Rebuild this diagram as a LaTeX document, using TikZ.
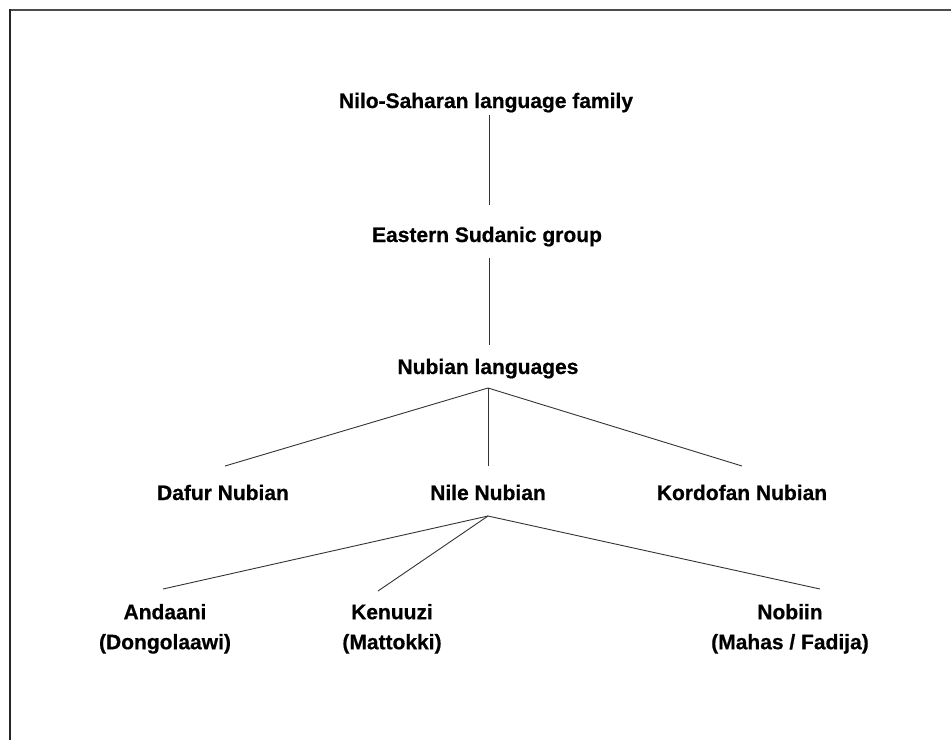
\documentclass[tikz,border=0pt]{standalone}
\usepackage{fontspec}
\newfontfamily\lblfont{Liberation Sans}[FakeBold=0.6]
\begin{document}
\begin{tikzpicture}[x=1pt,y=-1pt,
  lbl/.style={font=\lblfont\bfseries\fontsize{21}{28}\selectfont,
    inner sep=0pt, outer sep=0pt, text height=15pt, text depth=4pt, anchor=base},
  leaf/.style={font=\lblfont\bfseries\fontsize{21}{30}\selectfont,
    inner sep=0pt, outer sep=0pt, align=center, anchor=north},
  link/.style={draw=black!80, line width=0.9pt}]
\useasboundingbox (0,0) rectangle (951,740);
% frame: top and left edges only
\draw[line width=2pt, black!70] (9,10) -- (951,10);
\draw[line width=2pt, black!85] (10,9) -- (10,740);

% tree nodes
\node[lbl] (nsl) at (486,108) {Nilo-Saharan language family};
\node[lbl] (esg) at (487,242) {Eastern Sudanic group};
\node[lbl] (nub) at (488,374) {Nubian languages};
\node[lbl] (daf) at (223,500) {Dafur Nubian};
\node[lbl] (nil) at (488,500) {Nile Nubian};
\node[lbl] (kor) at (742,500) {Kordofan Nubian};
\node[leaf] (and) at (165,604) {Andaani\\(Dongolaawi)};
\node[leaf] (ken) at (392,604) {Kenuuzi\\(Mattokki)};
\node[leaf] (nob) at (790,604) {Nobiin\\(Mahas / Fadija)};

% connectors
\draw[link] ([xshift=3pt,yshift=-3pt]nsl.south) -- ([xshift=2pt,yshift=22pt]esg.north);
\draw[link] ([xshift=2pt,yshift=-12pt]esg.south) -- ([xshift=1pt,yshift=14pt]nub.north);
\draw[link] ([yshift=-10pt]nub.south) -- ([xshift=2pt,yshift=19pt]daf.north);
\draw[link] ([yshift=-10pt]nub.south) -- ([yshift=19pt]nil.north);
\draw[link] ([yshift=-10pt]nub.south) -- ([yshift=19pt]kor.north);
\draw[link] ([yshift=-12pt]nil.south) -- ([xshift=-2pt,yshift=15pt]and.north);
\draw[link] ([yshift=-12pt]nil.south) -- ([xshift=-14pt,yshift=13pt]ken.north);
\draw[link] ([yshift=-12pt]nil.south) -- ([xshift=30pt,yshift=15pt]nob.north);
\end{tikzpicture}
\end{document}
